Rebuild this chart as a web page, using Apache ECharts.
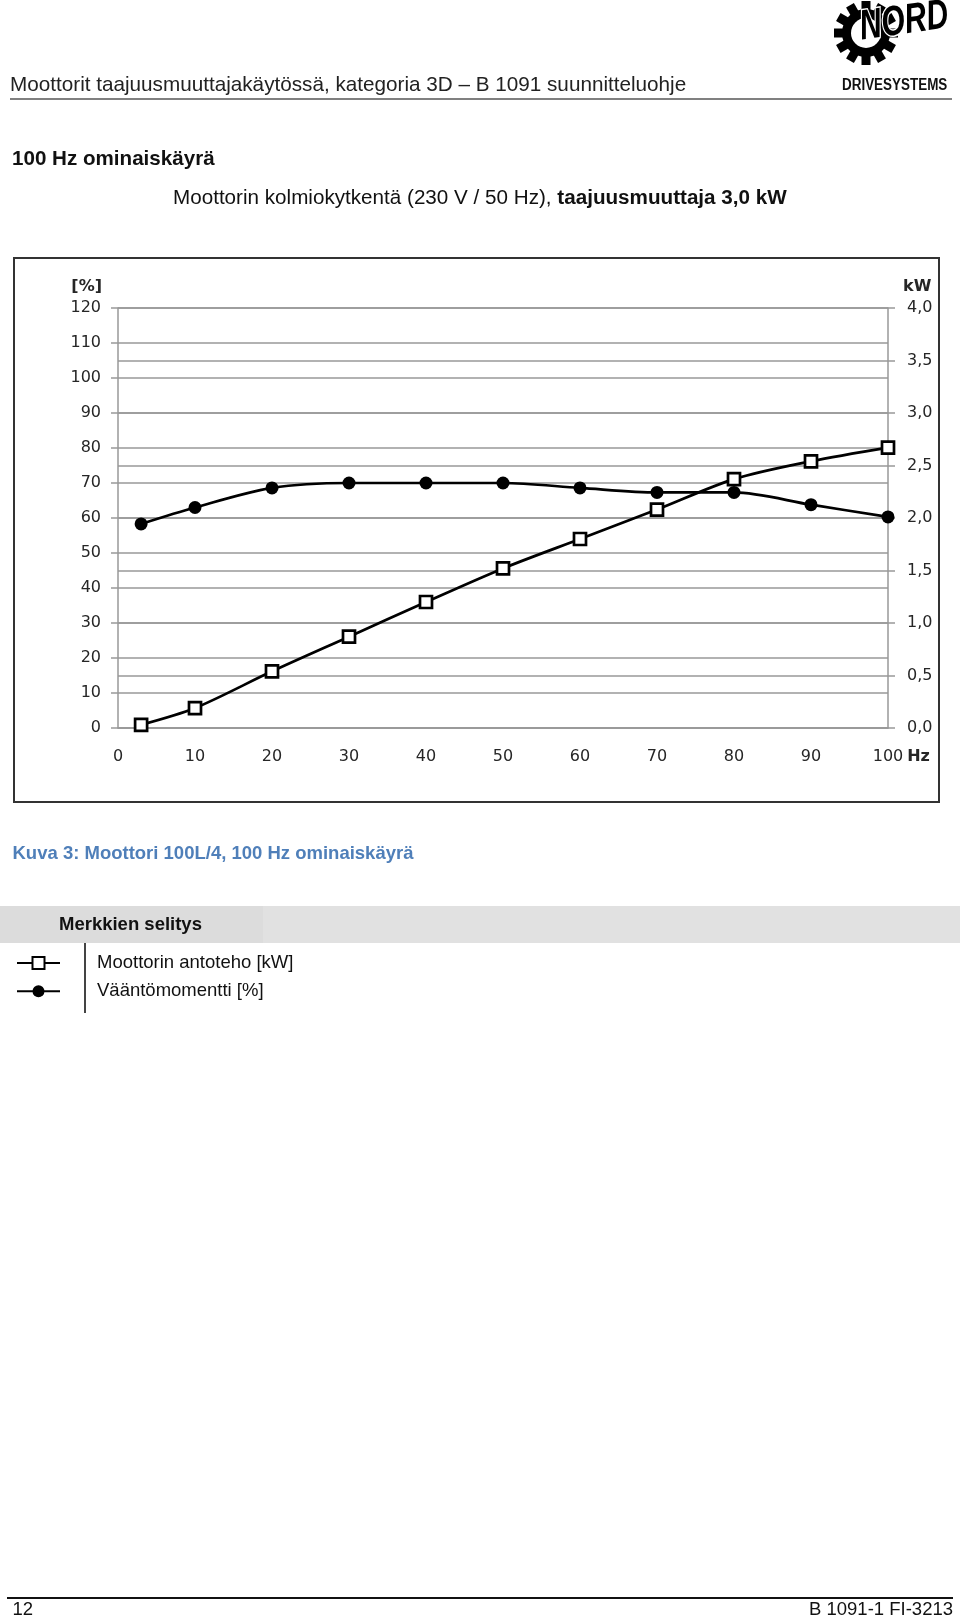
<!DOCTYPE html>
<html>
<head>
<meta charset="utf-8">
<script src="https://cdn.jsdelivr.net/npm/echarts@6/dist/echarts.min.js"></script>
<style>
html,body{margin:0;padding:0;background:#fff;}
body{width:960px;height:1619px;position:relative;overflow:hidden;font-family:"Liberation Sans",Arial,sans-serif;color:#111;}
.t{position:absolute;white-space:nowrap;line-height:1;z-index:2;}
.b{position:absolute;}
#chart{position:absolute;left:0;top:0;width:960px;height:1619px;z-index:1;}
</style>
</head>
<body>
<div class="t" style="left:10px;top:74px;font-size:20.7px;color:#222;">Moottorit taajuusmuuttajakäytössä, kategoria 3D – B 1091 suunnitteluohje</div>
<div class="b" style="left:10px;top:97.5px;width:942px;height:2.5px;background:#808080;"></div>
<div class="t" style="left:12px;top:148px;font-size:20.6px;font-weight:bold;">100 Hz ominaiskäyrä</div>
<div class="t" style="left:173px;top:187px;font-size:20.65px;">Moottorin kolmiokytkentä (230 V / 50 Hz), <b>taajuusmuuttaja 3,0 kW</b></div>
<div class="t" style="left:12.5px;top:844px;font-size:18.5px;font-weight:bold;color:#4f7fb9;">Kuva 3: Moottori 100L/4, 100 Hz ominaiskäyrä</div>
<div class="b" style="left:0;top:906px;width:263px;height:37px;background:#dcdcdc;"></div>
<div class="b" style="left:263px;top:906px;width:697px;height:37px;background:#e1e1e1;"></div>
<div class="t" style="left:59px;top:915px;font-size:18.5px;font-weight:bold;">Merkkien selitys</div>
<div class="b" style="left:84px;top:943px;width:2px;height:70px;background:#444;z-index:2;"></div>
<div class="b" style="left:7px;top:1597px;width:946px;height:2px;background:#111;"></div>
<div class="t" style="left:12.5px;top:1600px;font-size:18.5px;">12</div>
<div class="t" style="right:7px;top:1600px;font-size:18.5px;">B 1091-1 FI-3213</div>
<div id="chart"></div>
<script>
// ---- data ----
const freqHz     = [3, 10, 20, 30, 40, 50, 60, 70, 80, 90, 100];
const torquePct  = [58.3, 63.0, 68.6, 70.0, 70.0, 70.0, 68.6, 67.3, 67.3, 63.8, 60.3];
const powerKW    = [0.03, 0.19, 0.54, 0.87, 1.20, 1.52, 1.80, 2.08, 2.37, 2.54, 2.67];
const seriesPower  = 'Moottorin antoteho [kW]';
const seriesTorque = 'Vääntömomentti [%]';
const xAxisName = 'Hz';
const leftAxisName = '[%]';
const rightAxisName = 'kW';
const logoWord = 'NORD';
const logoSub = 'DRIVESYSTEMS';

const chart = echarts.init(document.getElementById('chart'), null, {renderer: 'canvas'});
const gridColor = '#999999';
const labelColor = '#262626';
const axisFont = 'DejaVu Sans';
const axisFontSize = 16;

const teeth = [];
for (let i = 0; i < 12; i++) {
  teeth.push({type: 'rect', rotation: i * Math.PI / 6, shape: {x: -4.5, y: -32, width: 9, height: 12}, style: {fill: '#000'}});
}

const option = {
  animation: false,
  grid: {left: 118, top: 308, width: 770, height: 420, containLabel: false},
  legend: {
    data: [seriesPower, seriesTorque],
    orient: 'vertical', left: 16, top: 953, padding: 0,
    itemWidth: 43, itemHeight: 15, itemGap: 8.3,
    selectedMode: false,
    textStyle: {fontFamily: 'Liberation Sans', fontSize: 18.5, color: '#111', lineHeight: 20, padding: [0, 0, 0, 32]}
  },
  xAxis: {
    type: 'value', min: 0, max: 100, interval: 10,
    axisLine: {show: true, lineStyle: {color: gridColor, width: 1.5}},
    axisTick: {show: false},
    splitLine: {show: false},
    axisLabel: {fontFamily: axisFont, fontSize: axisFontSize, color: labelColor, margin: 21},
    name: xAxisName, nameLocation: 'end', nameGap: 17,
    nameTextStyle: {fontFamily: axisFont, fontSize: axisFontSize, fontWeight: 'bold', color: labelColor, verticalAlign: 'top', padding: [21, 0, 0, 0]}
  },
  yAxis: [
    {
      type: 'value', min: 0, max: 120, interval: 10, position: 'left',
      axisLine: {show: true, lineStyle: {color: gridColor, width: 1.5}},
      axisTick: {show: true, length: 7, lineStyle: {color: gridColor, width: 1.5}},
      splitLine: {show: true, lineStyle: {color: gridColor, width: 1.5}},
      axisLabel: {fontFamily: axisFont, fontSize: axisFontSize, color: labelColor, margin: 17},
      name: leftAxisName, nameLocation: 'end', nameGap: 13,
      nameTextStyle: {fontFamily: axisFont, fontSize: axisFontSize, fontWeight: 'bold', color: labelColor, align: 'right', padding: [0, 16, 0, 0]}
    },
    {
      type: 'value', min: 0, max: 4, interval: 0.5, position: 'right',
      axisLine: {show: true, lineStyle: {color: gridColor, width: 1.5}},
      axisTick: {show: true, length: 7, lineStyle: {color: gridColor, width: 1.5}},
      splitLine: {show: true, lineStyle: {color: gridColor, width: 1.5}},
      axisLabel: {fontFamily: axisFont, fontSize: axisFontSize, color: labelColor, margin: 19,
        formatter: v => v.toFixed(1).replace('.', ',')},
      name: rightAxisName, nameLocation: 'end', nameGap: 13,
      nameTextStyle: {fontFamily: axisFont, fontSize: axisFontSize, fontWeight: 'bold', color: labelColor, align: 'left', padding: [0, 0, 0, 15]}
    }
  ],
  series: [
    {
      name: seriesTorque, type: 'line', yAxisIndex: 0,
      data: freqHz.map((f, i) => [f, torquePct[i]]),
      smooth: 0.3, symbol: 'circle', symbolSize: 13,
      itemStyle: {color: '#000'},
      lineStyle: {color: '#000', width: 2.7},
      emphasis: {disabled: true}, z: 3
    },
    {
      name: seriesPower, type: 'line', yAxisIndex: 1,
      data: freqHz.map((f, i) => [f, powerKW[i]]),
      smooth: 0.3, symbol: 'rect', symbolSize: 12,
      itemStyle: {color: '#fff', borderColor: '#000', borderWidth: 2.7},
      lineStyle: {color: '#000', width: 2.7},
      emphasis: {disabled: true}, z: 4
    }
  ],
  graphic: [
    {type: 'rect', shape: {x: 14, y: 258, width: 925, height: 544}, style: {fill: 'none', stroke: '#333', lineWidth: 2}, z: 0},
    {type: 'group', x: 866, y: 33, children: [
      {type: 'circle', shape: {cx: 0, cy: 0, r: 24}, style: {fill: '#000'}},
      ...teeth,
      {type: 'circle', shape: {cx: 0, cy: 0, r: 15}, style: {fill: '#fff'}}
    ]},
    {type: 'text', x: 860, y: 28, rotation: 0.14, scaleX: 0.72,
      style: {x: 0, y: 0, text: logoWord, font: 'italic 900 42px "Liberation Sans"', fill: '#000', stroke: '#fff', lineWidth: 3, strokeFirst: true, align: 'left', verticalAlign: 'middle'}},
    {type: 'text', x: 842, y: 85.5, scaleX: 0.84,
      style: {x: 0, y: 0, text: logoSub, font: 'bold 16px "Liberation Sans"', fill: '#111', align: 'left', verticalAlign: 'middle'}}
  ]
};
chart.setOption(option);
</script>
</body>
</html>
